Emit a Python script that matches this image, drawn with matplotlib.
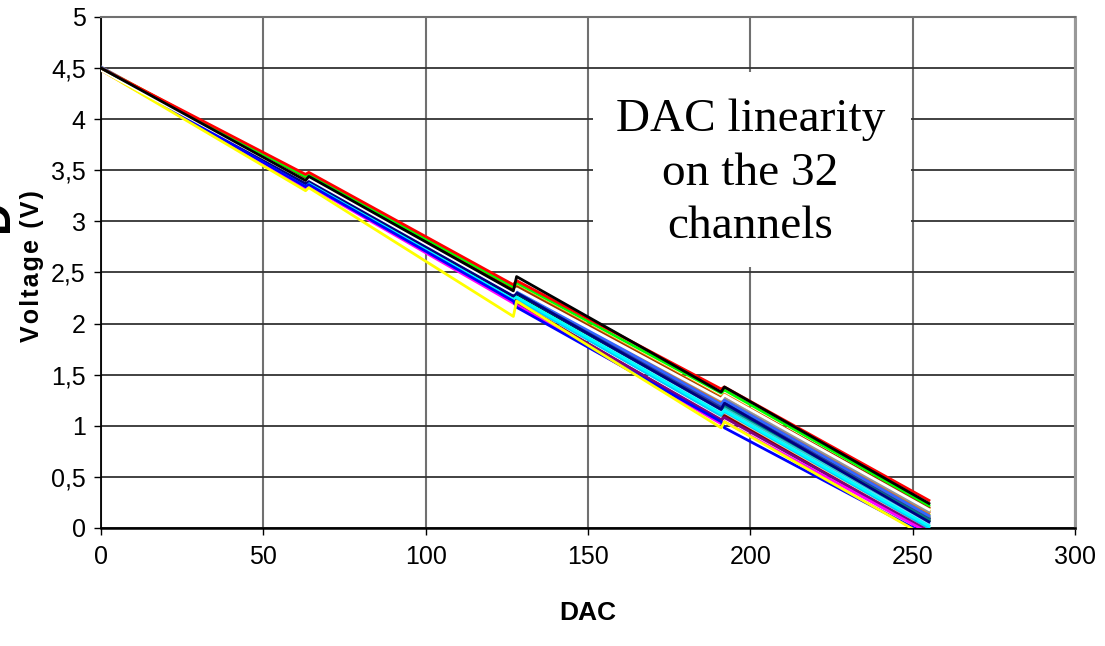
import matplotlib
matplotlib.use("Agg")
import matplotlib.pyplot as plt
from matplotlib.patches import Rectangle

# DAC code at the start/end of each 64-code segment
dac = [0, 63, 64, 127, 128, 191, 192, 255]

# voltages, one list per channel (same order as dac)
ch_colors = [
    "#CCFFFF", "#CCFFCC", "#FFFF99", "#99CCFF", "#FF99CC", "#CC99FF", "#FFCC99", "#33CCCC",
    "#99CC00", "#FFCC00", "#FF9900", "#FF6600", "#666699", "#969696", "#003366", "#339966",
    "#003300", "#993300", "#333399", "#3366FF", "#008080", "#00CCFF", "#800000", "#800080",
    "#00FFFF", "#000080", "#FF00FF", "#0000FF", "#FFFF00", "#FFFFFF", "#00FF00", "#FF0000",
]
ch_volts = [
    [4.49, 3.36, 3.39, 2.26, 2.28, 1.14, 1.17, 0.03],
    [4.50, 3.38, 3.40, 2.27, 2.30, 1.18, 1.21, 0.08],
    [4.49, 3.35, 3.38, 2.25, 2.27, 1.12, 1.15, 0.02],
    [4.49, 3.34, 3.37, 2.22, 2.27, 1.13, 1.16, 0.04],
    [4.49, 3.36, 3.38, 2.24, 2.25, 1.10, 1.12, -0.01],
    [4.50, 3.38, 3.40, 2.28, 2.31, 1.20, 1.22, 0.10],
    [4.49, 3.35, 3.37, 2.23, 2.26, 1.10, 1.13, -0.02],
    [4.50, 3.37, 3.39, 2.26, 2.29, 1.16, 1.18, 0.06],
    [4.50, 3.39, 3.42, 2.30, 2.33, 1.22, 1.25, 0.13],
    [4.50, 3.41, 3.44, 2.33, 2.36, 1.26, 1.29, 0.17],
    [4.51, 3.42, 3.45, 2.34, 2.37, 1.28, 1.31, 0.19],
    [4.50, 3.40, 3.43, 2.31, 2.34, 1.24, 1.27, 0.15],
    [4.50, 3.39, 3.41, 2.29, 2.32, 1.20, 1.23, 0.11],
    [4.50, 3.41, 3.43, 2.31, 2.35, 1.25, 1.28, 0.16],
    [4.50, 3.38, 3.41, 2.28, 2.31, 1.18, 1.21, 0.09],
    [4.50, 3.39, 3.41, 2.29, 2.32, 1.19, 1.23, 0.10],
    [4.50, 3.40, 3.42, 2.30, 2.29, 1.17, 1.24, 0.07],
    [4.50, 3.42, 3.44, 2.33, 2.36, 1.27, 1.30, 0.20],
    [4.50, 3.38, 3.40, 2.27, 2.31, 1.19, 1.22, 0.09],
    [4.51, 3.39, 3.41, 2.29, 2.33, 1.21, 1.25, 0.12],
    [4.50, 3.36, 3.38, 2.24, 2.30, 1.16, 1.20, 0.08],
    [4.49, 3.33, 3.36, 2.21, 2.24, 1.10, 1.14, 0.00],
    [4.49, 3.35, 3.37, 2.25, 2.21, 1.05, 1.10, -0.04],
    [4.49, 3.34, 3.37, 2.23, 2.20, 1.06, 1.08, -0.03],
    [4.49, 3.35, 3.38, 2.24, 2.26, 1.12, 1.15, 0.02],
    [4.50, 3.37, 3.40, 2.27, 2.30, 1.16, 1.22, 0.06],
    [4.48, 3.33, 3.35, 2.20, 2.18, 1.02, 1.04, -0.05],
    [4.49, 3.34, 3.36, 2.22, 2.16, 1.04, 0.98, -0.08],
    [4.48, 3.30, 3.33, 2.07, 2.22, 0.98, 1.04, -0.10],
    [4.48, 3.40, 3.42, 2.30, 2.34, 1.26, 1.30, 0.18],
    [4.50, 3.44, 3.46, 2.36, 2.40, 1.32, 1.35, 0.22],
    [4.50, 3.46, 3.48, 2.38, 2.42, 1.36, 1.38, 0.27],
]
black_ch = [4.50, 3.40, 3.44, 2.32, 2.46, 1.33, 1.38, 0.24]

xticks = [0, 50, 100, 150, 200, 250, 300]
yticks = [0, 0.5, 1, 1.5, 2, 2.5, 3, 3.5, 4, 4.5, 5]
ytick_labels = ["0", "0,5", "1", "1,5", "2", "2,5", "3", "3,5", "4", "4,5", "5"]

sans = ["Liberation Sans", "DejaVu Sans"]

fig = plt.figure(figsize=(11.05, 6.46), dpi=100)
ax = fig.add_axes([0.0914, 0.1827, 0.8815, 0.791])

for col, v in zip(ch_colors, ch_volts):
    ax.plot(dac, v, color=col, lw=2, zorder=3)
ax.plot(dac, black_ch, color="black", lw=2, zorder=3)

ax.set_xlim(0, 300)
ax.set_ylim(0, 5)
ax.set_xticks(xticks)
ax.set_xticklabels([str(t) for t in xticks], family=sans, fontsize=18)
ax.set_yticks(yticks)
ax.set_yticklabels(ytick_labels, family=sans, fontsize=18)
ax.tick_params(axis="x", direction="out", length=5, width=1, pad=7)
ax.tick_params(axis="y", direction="out", length=5, width=1, pad=6)

ax.set_axisbelow(True)
ax.yaxis.grid(True, color="#333333", lw=1.3)
ax.xaxis.grid(True, color="#707070", lw=1.5)

ax.spines["left"].set_color("black")
ax.spines["left"].set_linewidth(1.3)
ax.spines["bottom"].set_color("black")
ax.spines["bottom"].set_linewidth(1.8)
ax.spines["top"].set_color("#707070")
ax.spines["top"].set_linewidth(1.5)
ax.spines["right"].set_color("#999999")
ax.spines["right"].set_linewidth(2.2)

ax.set_xlabel("DAC", fontsize=19, fontweight="bold", family=sans)
ax.xaxis.set_label_coords(0.5, -0.142)
ylab = "\u200a".join("Voltage (V)")
ax.set_ylabel(ylab, fontsize=18, fontweight="bold", family=sans)
ax.yaxis.set_label_coords(-0.059, 0.513)

# white text box in the upper right of the plot area
ax.add_patch(Rectangle((151.5, 2.55), 98, 1.91, facecolor="white",
                       edgecolor="none", zorder=2))
ax.text(200, 3.47, "DAC linearity\non the 32\nchannels", ha="center", va="center",
        family=["Liberation Serif", "DejaVu Serif"], fontsize=34,
        linespacing=1.34, zorder=4)

# stray clipped label at the left edge
fig.text(-0.0036, 0.665, "D", rotation=90, fontsize=32, fontweight="bold",
         family=sans, ha="center", va="center")

fig.savefig("out.png", dpi=100)
